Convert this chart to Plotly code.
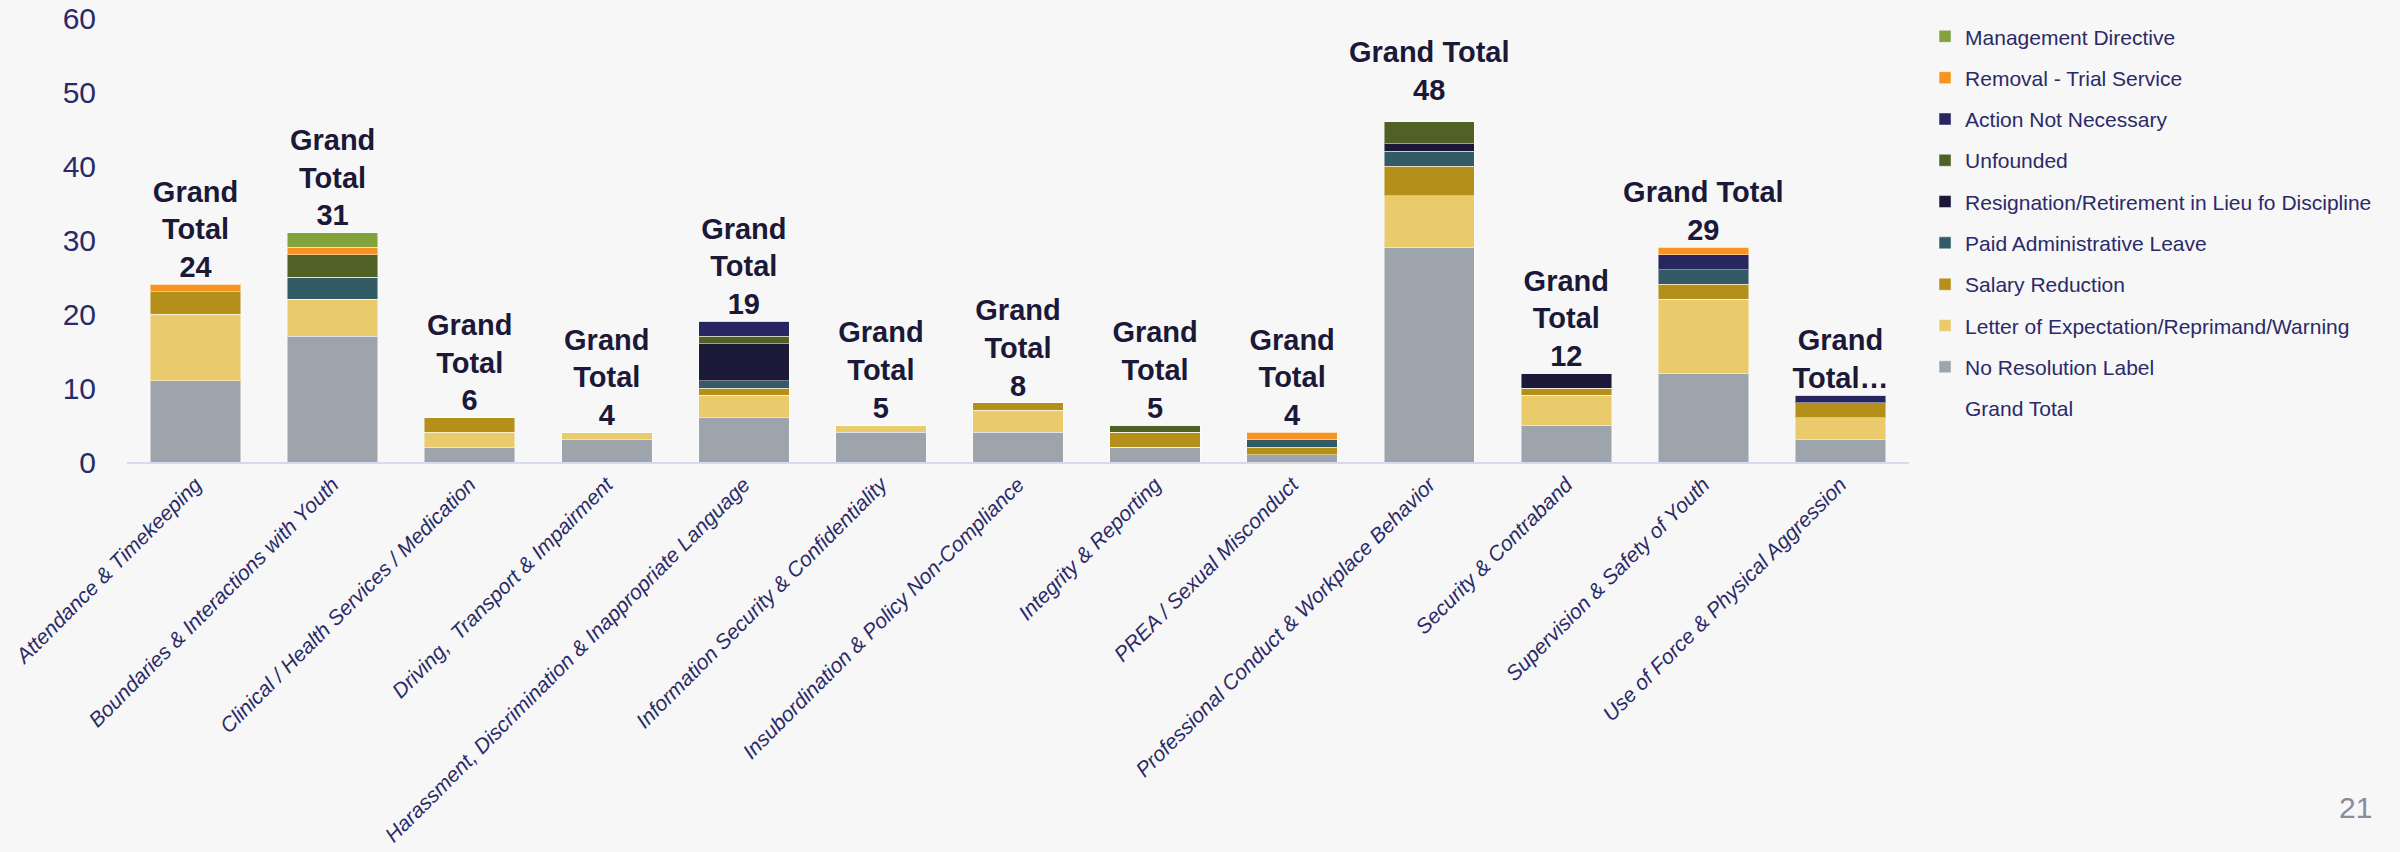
import plotly.graph_objects as go

categories = [
    "Attendance & Timekeeping",
    "Boundaries & Interactions with Youth",
    "Clinical / Health Services / Medication",
    "Driving,  Transport & Impairment",
    "Harassment, Discrimination & Inappropriate Language",
    "Information Security & Confidentiality",
    "Insubordination & Policy Non-Compliance",
    "Integrity & Reporting",
    "PREA / Sexual Misconduct",
    "Professional Conduct & Workplace Behavior",
    "Security & Contraband",
    "Supervision & Safety of Youth",
    "Use of Force & Physical Aggression",
]

# resolution counts per category (stacked bottom -> top)
no_resolution = [11, 17, 2, 3, 6, 4, 4, 2, 1, 29, 5, 12, 3]
letter_warning = [9, 5, 2, 1, 3, 1, 3, 0, 0, 7, 4, 10, 3]
salary_reduction = [3, 0, 2, 0, 1, 0, 1, 2, 1, 4, 1, 2, 2]
paid_admin_leave = [0, 3, 0, 0, 1, 0, 0, 0, 1, 2, 0, 2, 0]
resignation = [0, 0, 0, 0, 5, 0, 0, 0, 0, 1, 2, 0, 0]
unfounded = [0, 3, 0, 0, 1, 0, 0, 1, 0, 3, 0, 0, 0]
action_not_necessary = [0, 0, 0, 0, 2, 0, 0, 0, 0, 0, 0, 2, 1]
removal_trial = [1, 1, 0, 0, 0, 0, 0, 0, 1, 0, 0, 1, 0]
management_directive = [0, 2, 0, 0, 0, 0, 0, 0, 0, 0, 0, 0, 0]

grand_total = [24, 31, 6, 4, 19, 5, 8, 5, 4, 48, 12, 29, 9]
grand_total_text = [
    "Grand<br>Total<br>24", "Grand<br>Total<br>31", "Grand<br>Total<br>6",
    "Grand<br>Total<br>4", "Grand<br>Total<br>19", "Grand<br>Total<br>5",
    "Grand<br>Total<br>8", "Grand<br>Total<br>5", "Grand<br>Total<br>4",
    "Grand Total<br>48", "Grand<br>Total<br>12", "Grand Total<br>29",
    "Grand<br>Total…",
]

series = [
    ("No Resolution Label", no_resolution, "#9ea4ab"),
    ("Letter of Expectation/Reprimand/Warning", letter_warning, "#e9cb6b"),
    ("Salary Reduction", salary_reduction, "#b48f1a"),
    ("Paid Administrative Leave", paid_admin_leave, "#335b66"),
    ("Resignation/Retirement in Lieu fo Discipline", resignation, "#1b1838"),
    ("Unfounded", unfounded, "#4f6124"),
    ("Action Not Necessary", action_not_necessary, "#282660"),
    ("Removal - Trial Service", removal_trial, "#f79421"),
    ("Management Directive", management_directive, "#83a23c"),
]

navy = "#2a2a68"
fig = go.Figure()

n = len(series)
for i, (name, vals, color) in enumerate(series):
    fig.add_trace(go.Bar(
        x=categories, y=vals, name=name,
        marker=dict(color=color, line=dict(color="rgba(255,255,255,0.45)", width=1)),
        legendgroup=name, legendrank=n - i,
        hoverinfo="skip",
    ))

fig.add_trace(go.Scatter(
    x=categories, y=grand_total, name="Grand Total",
    mode="lines+text", text=grand_total_text, textposition="top center",
    line=dict(color="rgba(0,0,0,0)", width=0),
    textfont=dict(family="Liberation Sans, Arial, sans-serif", size=29, color="#1b1838", weight="bold"),
    legendgroup="gt", legendrank=n + 1, cliponaxis=False,
    hoverinfo="skip",
))

# plot area in pixels: x 127..1909, y 18..462
PLOT_L, PLOT_R, PLOT_T, PLOT_B = 127, 1909, 18, 462
pw, ph = PLOT_R - PLOT_L, PLOT_B - PLOT_T

fig.add_annotation(
    text="21", xref="paper", yref="paper",
    x=(2374 - PLOT_L) / pw, y=(PLOT_B - 826) / ph,
    xanchor="right", yanchor="bottom", showarrow=False,
    font=dict(family="Liberation Sans, Arial, sans-serif", size=30, color="#8a8a9a"),
)

fig.update_layout(
    width=2400, height=852,
    paper_bgcolor="#f7f7f7", plot_bgcolor="#f7f7f7",
    barmode="stack", bargap=0.34,
    margin=dict(l=PLOT_L, r=2400 - PLOT_R, t=PLOT_T, b=852 - PLOT_B, autoexpand=False),
    font=dict(family="Liberation Sans, Arial, sans-serif", color=navy),
    showlegend=True,
    legend=dict(
        x=1.009, xanchor="left", y=1.004, yanchor="top",
        font=dict(size=21, color=navy),
        tracegroupgap=11, bgcolor="rgba(0,0,0,0)",
        traceorder="grouped",
    ),
)

fig.update_yaxes(
    range=[0, 60], dtick=10, showgrid=False, zeroline=False,
    showline=False, ticks="", ticklabelstandoff=30,
    tickfont=dict(size=30, color=navy),
)
fig.update_xaxes(
    range=[-0.5, len(categories) - 0.5],
    showline=True, linecolor="#d8d8ee", linewidth=2,
    tickangle=-45, ticks="", showgrid=False,
    tickfont=dict(size=21, color=navy, style="italic"),
)

fig.write_html("out.html")
